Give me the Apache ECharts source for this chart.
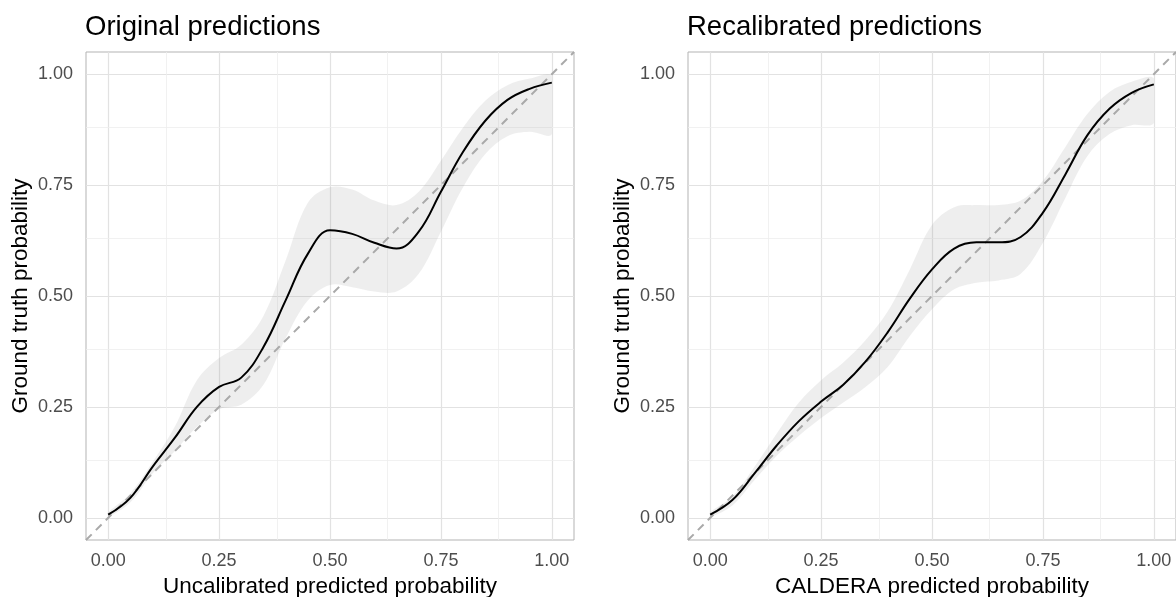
<!DOCTYPE html>
<html>
<head>
<meta charset="utf-8">
<script src="https://cdn.jsdelivr.net/npm/echarts@6/dist/echarts.min.js"></script>
<style>
	html, body { margin: 0; padding: 0; background: #ffffff; }
	#chart { width: 1176px; height: 597px; }
</style>
</head>
<body>
<div id="chart"></div>
<script>
//Chart data
let band_x = [0, 0.05, 0.10, 0.15, 0.20, 0.25, 0.30, 0.35, 0.40, 0.45, 0.50, 0.55, 0.60, 0.65, 0.70, 0.75, 0.80, 0.85, 0.90, 0.95, 1.00];

let left_curve = [0.007, 0.045, 0.115, 0.18, 0.25, 0.295, 0.316, 0.385, 0.49, 0.595, 0.648, 0.640, 0.62, 0.607, 0.645, 0.735, 0.825, 0.895, 0.942, 0.967, 0.981];
let left_upper = [0.012, 0.055, 0.125, 0.205, 0.31, 0.36, 0.39, 0.455, 0.58, 0.71, 0.745, 0.74, 0.715, 0.705, 0.735, 0.805, 0.88, 0.94, 0.975, 0.99, 0.995];
let left_lower = [0.002, 0.035, 0.10, 0.15, 0.205, 0.245, 0.255, 0.30, 0.405, 0.49, 0.525, 0.52, 0.51, 0.51, 0.55, 0.645, 0.745, 0.82, 0.86, 0.87, 0.865];

let right_curve = [0.007, 0.04, 0.10, 0.163, 0.218, 0.262, 0.30, 0.352, 0.418, 0.494, 0.56, 0.607, 0.621, 0.621, 0.633, 0.688, 0.773, 0.862, 0.922, 0.958, 0.977];
let right_upper = [0.012, 0.048, 0.115, 0.19, 0.26, 0.31, 0.35, 0.40, 0.465, 0.56, 0.66, 0.70, 0.705, 0.705, 0.715, 0.76, 0.835, 0.91, 0.96, 0.983, 0.99];
let right_lower = [0.002, 0.028, 0.085, 0.14, 0.185, 0.225, 0.26, 0.295, 0.34, 0.41, 0.47, 0.515, 0.53, 0.535, 0.55, 0.62, 0.72, 0.815, 0.865, 0.885, 0.89];

let diag_x = [-0.05, 1.05];
let diag_y = [-0.05, 1.05];

let tick_values = [0, 0.25, 0.5, 0.75, 1];
let minor_values = [0.125, 0.375, 0.625, 0.875];

let panel_titles = ["Original predictions", "Recalibrated predictions"];
let x_titles = ["Uncalibrated predicted probability", "CALDERA predicted probability"];
let y_title = "Ground truth probability";

//Style constants
let font_family = "'Liberation Sans', Arial, sans-serif";
let border_colour = "#b3b3b3";
let tick_label_colour = "#4d4d4d";

function makeAxis (arg0_grid_index, arg1_name, arg2_is_y) {
	//Convert from parameters
	let grid_index = arg0_grid_index;
	let name = arg1_name;
	let is_y = arg2_is_y;

	//Return statement
	return {
		type: "value",
		gridIndex: grid_index,
		min: -0.05,
		max: 1.05,
		name: name,
		nameLocation: "middle",
		nameGap: (is_y) ? 54 : 33,
		nameTextStyle: {
			color: "#000000",
			fontSize: 22.5,
			fontFamily: font_family
		},
		axisLine: { show: false },
		axisTick: {
			show: true,
			length: 6,
			customValues: tick_values,
			lineStyle: { color: border_colour, width: 1 }
		},
		axisLabel: {
			show: true,
			customValues: tick_values,
			margin: (is_y) ? 13 : 12,
			color: tick_label_colour,
			fontSize: 18,
			fontFamily: font_family,
			formatter: (value) => value.toFixed(2)
		},
		splitLine: { show: false },
		minorSplitLine: { show: false }
	};
}

function makeGridLines (arg0_index) {
	//Convert from parameters
	let index = arg0_index;

	//Declare local instance variables
	let line_data = [];

	tick_values.forEach((local_value) => {
		line_data.push({ xAxis: local_value, lineStyle: { color: "#e2e2e2", width: 1.2, type: "solid" } });
		line_data.push({ yAxis: local_value, lineStyle: { color: "#e2e2e2", width: 1.2, type: "solid" } });
	});
	minor_values.forEach((local_value) => {
		line_data.push({ xAxis: local_value, lineStyle: { color: "#ededed", width: 0.8, type: "solid" } });
		line_data.push({ yAxis: local_value, lineStyle: { color: "#ededed", width: 0.8, type: "solid" } });
	});

	//Return statement
	return {
		type: "line",
		xAxisIndex: index,
		yAxisIndex: index,
		data: [],
		silent: true,
		z: 1,
		markLine: {
			silent: true,
			z: 1,
			symbol: ["none", "none"],
			label: { show: false },
			emphasis: { disabled: true },
			data: line_data
		}
	};
}

function makeBand (arg0_index, arg1_lower, arg2_upper) {
	//Convert from parameters
	let index = arg0_index;
	let lower = arg1_lower;
	let upper = arg2_upper;

	//Declare local instance variables
	let band_data = band_x.map((local_x, i) => [local_x, lower[i], upper[i]]);

	//Return statement
	return {
		type: "custom",
		xAxisIndex: index,
		yAxisIndex: index,
		silent: true,
		z: 2,
		data: band_data,
		encode: { x: 0, y: [1, 2] },
		renderItem: (params, api) => {
			if (params.dataIndex !== 0) return null;

			let points = [];
			for (let i = 0; i < band_data.length; i++)
				points.push(api.coord([band_data[i][0], band_data[i][2]]));
			for (let i = band_data.length - 1; i >= 0; i--)
				points.push(api.coord([band_data[i][0], band_data[i][1]]));

			let min_point = api.coord([0, 1.05]);
			let max_point = api.coord([1, -0.05]);

			return {
				type: "polygon",
				shape: {
					points: points,
					smooth: 0.35,
					smoothConstraint: [min_point, max_point]
				},
				style: {
					fill: "rgba(150, 150, 150, 0.16)",
					stroke: null
				}
			};
		}
	};
}

function makeDiagonal (arg0_index) {
	//Return statement
	return {
		type: "line",
		xAxisIndex: arg0_index,
		yAxisIndex: arg0_index,
		data: diag_x.map((local_x, i) => [local_x, diag_y[i]]),
		symbol: "none",
		silent: true,
		z: 3,
		lineStyle: { color: "#a9a9a9", width: 2, type: [8, 6] }
	};
}

function makeCurve (arg0_index, arg1_values) {
	//Return statement
	return {
		type: "line",
		xAxisIndex: arg0_index,
		yAxisIndex: arg0_index,
		data: band_x.map((local_x, i) => [local_x, arg1_values[i]]),
		symbol: "none",
		smooth: 0.4,
		silent: true,
		z: 4,
		lineStyle: { color: "#000000", width: 2 }
	};
}

//Build chart
let chart = echarts.init(document.getElementById("chart"), null, { renderer: "canvas" });
let grid_lefts = [86, 688];

let option = {
	animation: false,
	backgroundColor: "#ffffff",
	title: panel_titles.map((local_text, i) => ({
		text: local_text,
		left: grid_lefts[i] - 1,
		top: 13,
		padding: 0,
		textStyle: {
			color: "#000000",
			fontSize: 27.5,
			fontWeight: "normal",
			fontFamily: font_family
		}
	})),
	grid: grid_lefts.map((local_left) => ({
		left: local_left,
		top: 52,
		width: 488,
		height: 488,
		outerBoundsMode: "none",
		containLabel: false,
		show: true,
		backgroundColor: "transparent",
		borderColor: border_colour,
		borderWidth: 1
	})),
	xAxis: [makeAxis(0, x_titles[0], false), makeAxis(1, x_titles[1], false)],
	yAxis: [makeAxis(0, y_title, true), makeAxis(1, y_title, true)],
	series: [
		makeGridLines(0),
		makeBand(0, left_lower, left_upper),
		makeDiagonal(0),
		makeCurve(0, left_curve),
		makeGridLines(1),
		makeBand(1, right_lower, right_upper),
		makeDiagonal(1),
		makeCurve(1, right_curve)
	]
};

chart.setOption(option);
</script>
</body>
</html>
